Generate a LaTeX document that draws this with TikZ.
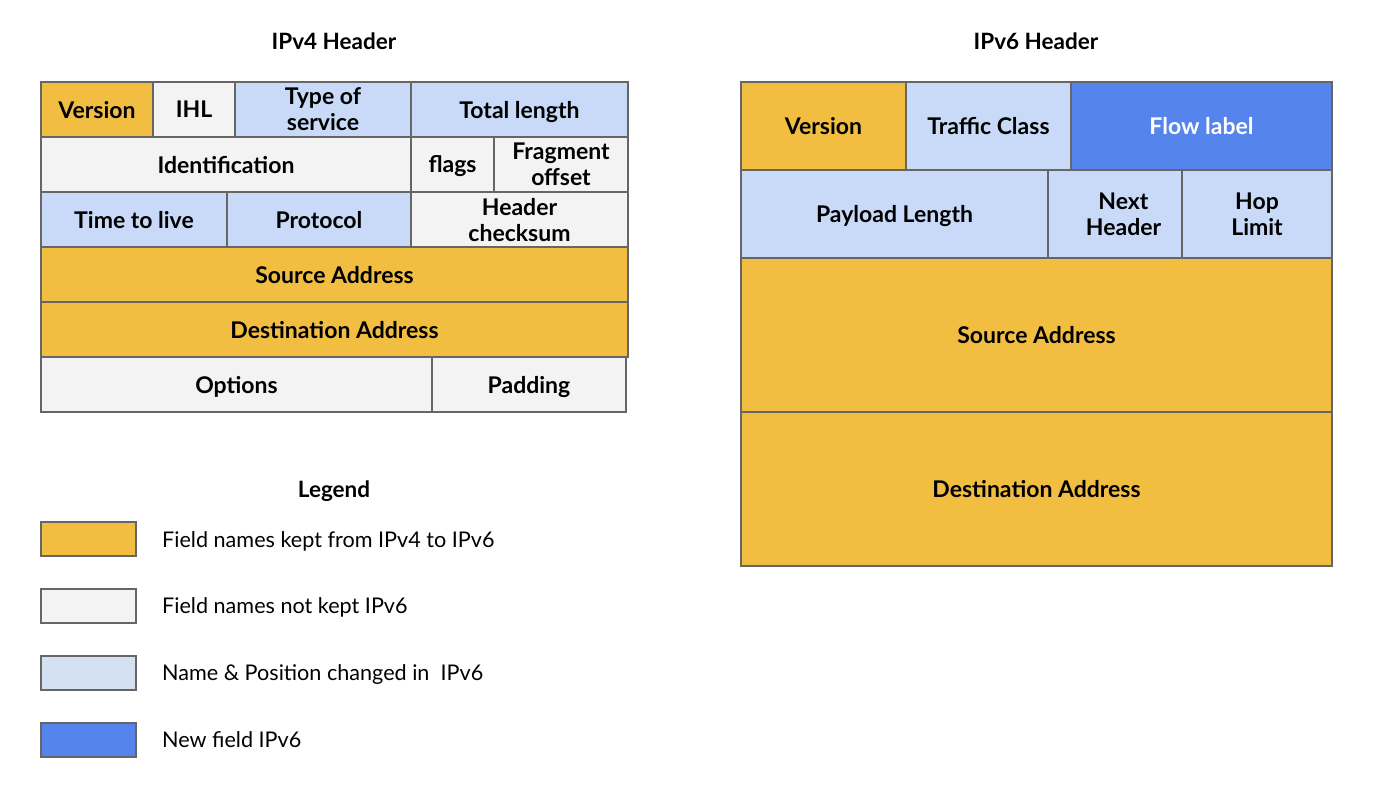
\documentclass[tikz,border=0pt]{standalone}
\usepackage{fontspec}
\setmainfont{Lato}
\definecolor{keep}{HTML}{F1BE42}
\definecolor{drop}{HTML}{F3F3F3}
\definecolor{moved}{HTML}{C9DAF8}
\definecolor{movedkey}{HTML}{D3E1F2}
\definecolor{newf}{HTML}{5484EC}
\definecolor{edge}{HTML}{666666}
\tikzset{
  fld/.style={draw=edge, line width=1.5pt, inner sep=0pt, align=center, text depth=0pt,
    font=\fontsize{23}{26}\selectfont\bfseries, text=black},
  ttl/.style={font=\fontsize{22.5}{26}\selectfont\bfseries},
  keybox/.style={draw=edge, line width=1.5pt, minimum width=95pt, minimum height=34pt, inner sep=0pt},
  keytxt/.style={anchor=west, inner sep=0pt, text depth=0pt, font=\fontsize{21.6}{26}\selectfont}
}
% \fld{name}{x1}{y1}{x2}{y2}{fill}{text}
\newcommand\fld[7]{%
  \pgfmathsetmacro\fw{#4-#2}\pgfmathsetmacro\fh{#5-#3}%
  \node[fld, fill=#6, minimum width=\fw pt, minimum height=\fh pt] (#1)
    at ({(#2+#4)/2},{(#3+#5)/2}) {#7};}
\begin{document}
\begin{tikzpicture}[x=1pt, y=-1pt]
\useasboundingbox (0,0) rectangle (1378,788);

% IPv4 header
\node[ttl] (t4) at (334,41) {IPv4 Header};
\fld{v4ver}{41}{82}{153}{137}{keep}{Version}
\fld{v4ihl}{153}{82}{235}{137}{drop}{IHL}
\fld{v4tos}{235}{82}{411}{137}{moved}{Type of\\service}
\fld{v4len}{411}{82}{628}{137}{moved}{Total length}
\fld{v4id}{41}{137}{411}{192}{drop}{Identification}
\fld{v4flg}{411}{137}{494}{192}{drop}{flags}
\fld{v4frag}{494}{137}{628}{192}{drop}{Fragment\\offset}
\fld{v4ttl}{41}{192}{227}{247}{moved}{Time to live}
\fld{v4pro}{227}{192}{411}{247}{moved}{Protocol}
\fld{v4chk}{411}{192}{628}{247}{drop}{Header\\checksum}
\fld{v4src}{41}{247}{628}{302}{keep}{Source Address}
\fld{v4dst}{41}{302}{628}{357}{keep}{Destination Address}
\fld{v4opt}{41}{357}{432}{412}{drop}{Options}
\fld{v4pad}{432}{357}{626}{412}{drop}{Padding}

% IPv6 header
\node[ttl] (t6) at (1036,41) {IPv6 Header};
\fld{v6ver}{741}{82}{906}{170}{keep}{Version}
\fld{v6tc}{906}{82}{1071}{170}{moved}{Traffic Class}
\fld{v6flow}{1071}{82}{1332}{170}{newf}{\textcolor{white}{Flow label}}
\fld{v6pl}{741}{170}{1048}{258}{moved}{Payload Length}
\fld{v6nh}{1048}{170}{1182}{258}{moved}{\hspace*{17pt}Next\\\hspace*{17pt}Header}
\fld{v6hop}{1182}{170}{1332}{258}{moved}{Hop\\Limit}
\fld{v6src}{741}{258}{1332}{412}{keep}{Source Address}
\fld{v6dst}{741}{412}{1332}{566}{keep}{Destination Address}

% Legend
\node[ttl] (lg) at (334,491) {Legend};
\node[keybox, fill=keep] (k1) at (88.5,539) {};
\node[keytxt] (k1t) at (162,540) {Field names kept from IPv4 to IPv6};
\node[keybox, fill=drop] (k2) at (88.5,606) {};
\node[keytxt] (k2t) at (162,606) {Field names not kept IPv6};
\node[keybox, fill=movedkey] (k3) at (88.5,673) {};
\node[keytxt] (k3t) at (162,673) {Name \& Position changed in\ \ IPv6};
\node[keybox, fill=newf] (k4) at (88.5,740) {};
\node[keytxt] (k4t) at (162,740) {New field IPv6};
\end{tikzpicture}
\end{document}
